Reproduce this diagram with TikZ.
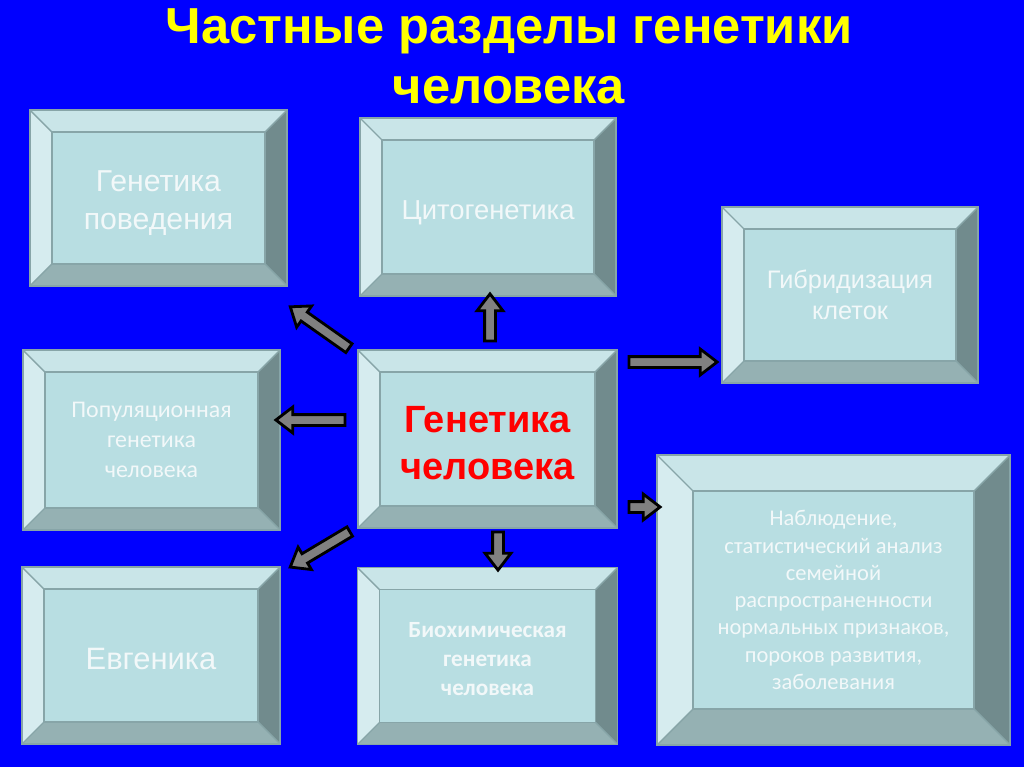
\documentclass[tikz,border=0pt]{standalone}
\usepackage{fontspec}
\setmainfont{Liberation Sans}
\newfontfamily\calibri{Carlito}
\usetikzlibrary{calc, shapes.arrows}

\definecolor{slideblue}{RGB}{0,0,255}
\definecolor{titleyellow}{RGB}{255,255,0}
\definecolor{boxface}{RGB}{184,222,226}
\definecolor{bevtop}{RGB}{201,229,232}
\definecolor{bevleft}{RGB}{214,236,239}
\definecolor{bevright}{RGB}{113,139,141}
\definecolor{bevbottom}{RGB}{149,177,179}
\definecolor{boxedge}{RGB}{135,165,168}
\definecolor{boxtext}{RGB}{242,248,249}
\definecolor{arrowgray}{RGB}{128,128,128}
\definecolor{mainred}{RGB}{255,0,0}

\newdimen\px \px=0.025cm
\newdimen\bev
\newcommand{\drop}[1]{\rule{0pt}{#1}}

\tikzset{
  bevelbox/.style={draw=boxedge, line width=1pt, fill=boxface, inner sep=0pt,
    align=center, text=boxtext, /utils/exec={\bev=#1\px},
    path picture={
      \coordinate (nw) at (path picture bounding box.north west);
      \coordinate (ne) at (path picture bounding box.north east);
      \coordinate (se) at (path picture bounding box.south east);
      \coordinate (sw) at (path picture bounding box.south west);
      \fill[bevtop] (nw) -- (ne) -- ([shift={(-\bev,-\bev)}]ne) -- ([shift={(\bev,-\bev)}]nw) -- cycle;
      \fill[bevright] (ne) -- (se) -- ([shift={(-\bev,\bev)}]se) -- ([shift={(-\bev,-\bev)}]ne) -- cycle;
      \fill[bevbottom] (sw) -- (se) -- ([shift={(-\bev,\bev)}]se) -- ([shift={(\bev,\bev)}]sw) -- cycle;
      \fill[bevleft] (nw) -- (sw) -- ([shift={(\bev,\bev)}]sw) -- ([shift={(\bev,-\bev)}]nw) -- cycle;
      \draw[boxedge, line width=1pt] (nw) -- ++(\bev,-\bev) (ne) -- ++(-\bev,-\bev)
        (se) -- ++(-\bev,\bev) (sw) -- ++(\bev,\bev);
      \draw[boxedge, line width=1.2pt] ([shift={(\bev,-\bev)}]nw) rectangle ([shift={(-\bev,\bev)}]se);
    }},
  bevelbox/.default=22,
  blockarrow/.style={single arrow, draw=black, fill=arrowgray, line width=2pt,
    inner xsep=0pt, inner ysep=0.1cm, minimum width=0.6cm,
    single arrow head extend=0.19cm, single arrow tip angle=75},
}

% block arrow from one named point to another
\newcommand{\blockarr}[3]{%
  \path let \p1=($(#3)-(#2)$), \n1={atan2(\y1,\x1)}, \n2={veclen(\x1,\y1)} in
    node[blockarrow, rotate=\n1, minimum height={\n2-2}] (#1) at ($(#2)!0.5!(#3)$) {};}

\begin{document}
\begin{tikzpicture}[x=0.025cm, y=-0.025cm]
  \fill[slideblue] (0,0) rectangle (1024,767);
  \useasboundingbox (0,0) rectangle (1024,767);

  % title
  \node[font=\bfseries\fontsize{36}{42.5}\selectfont, text=titleyellow, align=center, anchor=north]
    (title) at (509,4) {Частные разделы генетики\\человека};

  % boxes
  \node[bevelbox, minimum width=6.425cm, minimum height=4.4cm,
    font=\fontsize{21.5}{27}\selectfont]
    (povedenie) at (158.5,198) {\drop{22pt}Генетика\\поведения};
  \node[bevelbox, minimum width=6.4cm, minimum height=4.45cm,
    font=\fontsize{19.5}{23}\selectfont]
    (cyto) at (488,207) {\drop{21pt}Цитогенетика};
  \node[bevelbox, minimum width=6.4cm, minimum height=4.4cm, font=\fontsize{18}{22.5}\selectfont]
    (gibrid) at (850,295) {Гибридизация\\клеток};
  \node[bevelbox, minimum width=6.425cm, minimum height=4.5cm, font=\calibri\fontsize{17}{21.5}\selectfont]
    (popul) at (151.5,440) {Популяционная\\генетика\\человека};
  \node[bevelbox, minimum width=6.475cm, minimum height=4.45cm, text=mainred,
    font=\bfseries\fontsize{27}{33.5}\selectfont]
    (genchel) at (487.5,439) {\drop{24pt}Генетика\\человека};
  \node[bevelbox, minimum width=6.45cm, minimum height=4.425cm,
    font=\fontsize{22}{26}\selectfont]
    (evgen) at (151,655.5) {\drop{20pt}Евгеника};
  \node[bevelbox, minimum width=6.5cm, minimum height=4.425cm,
    font=\calibri\bfseries\fontsize{16.5}{20.6}\selectfont]
    (biochem) at (487.5,656) {\drop{15pt}Биохимическая\\генетика\\человека};
  \node[bevelbox=36, minimum width=8.825cm, minimum height=7.25cm, font=\calibri\fontsize{16}{19.4}\selectfont]
    (nabl) at (833.5,600) {Наблюдение,\\статистический анализ\\семейной\\распространенности\\нормальных признаков,\\пороков развития,\\заболевания};

  % arrow ends
  \coordinate (upT) at (490,346);   \coordinate (upH) at (490,296);
  \coordinate (ulT) at (353,351);   \coordinate (ulH) at (292,308);
  \coordinate (lfT) at (350,420);   \coordinate (lfH) at (278,420);
  \coordinate (dlT) at (354,529);   \coordinate (dlH) at (292,566);
  \coordinate (dnT) at (498,527);   \coordinate (dnH) at (498,568);
  \coordinate (rtT) at (624,362);   \coordinate (rtH) at (715,362);
  \coordinate (rbT) at (624,507);   \coordinate (rbH) at (658,507);

  \blockarr{arrUp}{upT}{upH}
  \blockarr{arrUL}{ulT}{ulH}
  \blockarr{arrLeft}{lfT}{lfH}
  \blockarr{arrDL}{dlT}{dlH}
  \blockarr{arrDown}{dnT}{dnH}
  \blockarr{arrRight}{rtT}{rtH}
  \blockarr{arrRB}{rbT}{rbH}
\end{tikzpicture}
\end{document}
